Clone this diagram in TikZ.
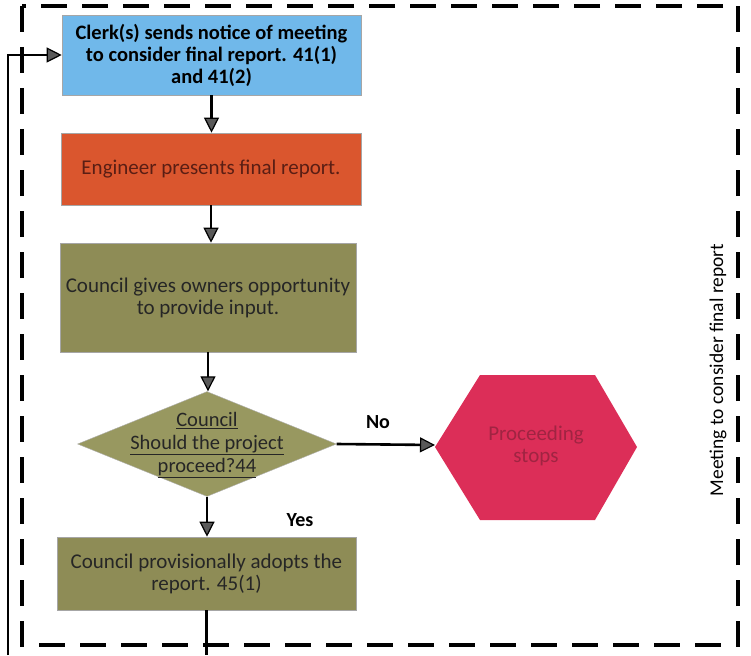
\documentclass[tikz,border=0pt]{standalone}
\usepackage{fontspec}
\setmainfont{Carlito}
\usetikzlibrary{shapes.geometric,arrows.meta}
\definecolor{noticeblue}{RGB}{112,184,234}
\definecolor{reportorange}{RGB}{218,86,46}
\definecolor{councilolive}{RGB}{142,140,86}
\definecolor{decisionolive}{RGB}{152,152,96}
\definecolor{stopred}{RGB}{220,46,88}
\definecolor{stoptext}{RGB}{160,36,66}
\definecolor{reporttext}{RGB}{90,30,20}

\begin{document}
\begin{tikzpicture}
[x=1pt,y=-1pt,
 every node/.style={align=center,font=\fontsize{21}{22}\selectfont},
 box/.style={rectangle,inner sep=0pt,draw=black!35,line width=0.6pt},
 arr/.style={line width=2.6pt,-{Triangle[length=15pt,width=15pt,fill=black!65,line width=1.2pt]}},
 lbl/.style={font=\fontsize{20}{22}\selectfont\bfseries}]
\useasboundingbox (0,0) rectangle (751,655);
\draw[line width=3.5pt,dash pattern=on 26pt off 15pt] (22,6) rectangle (738,645);
\node[box,fill=noticeblue,minimum width=299pt,minimum height=80pt,font=\fontsize{20.5}{22}\selectfont\bfseries] (notice) at (211.5,55) {Clerk(s) sends notice of meeting\\to consider final report. 41(1)\\and 41(2)};
\node[box,fill=reportorange,minimum width=300pt,minimum height=72pt,text=reporttext] (present) at (211,169) {Engineer presents final report.};
\node[box,fill=councilolive,minimum width=296pt,minimum height=109pt,text=black!85] (input) at (208,297.5) {Council gives owners opportunity\\to provide input.};
\node[diamond,fill=decisionolive,draw=black!30,minimum width=259pt,minimum height=105pt,inner sep=0pt] (proceed) at (207,444) {};
\node[text=black!85,font=\fontsize{20.5}{23}\selectfont] (question) at (207,445) {\underline{Council}\\\underline{Should the project}\\\underline{proceed?44}};
\fill[stopred] (435,447) -- (480,375) -- (595,375) -- (637,447) -- (595,520) -- (480,520) -- cycle;
\coordinate (stopin) at (435,445);
\node[text=stoptext] (stops) at (536,446) {Proceeding\\stops};
\node[box,fill=councilolive,minimum width=299pt,minimum height=73pt,text=black!85] (adopt) at (206.5,573.5) {Council provisionally adopts the\\report. 45(1)};
\node[lbl] (no) at (378,422) {No};
\node[lbl] (yes) at (300,520) {Yes};
\node[rotate=90,font=\fontsize{19.5}{22}\selectfont] (meeting) at (718,370) {Meeting to consider final report};
\coordinate (loopstart) at (8,655);
\coordinate (loopend) at (207,655);
\foreach \from/\to in {notice/present,present/input,input/proceed,proceed/adopt}
\draw[arr] (\from.south) -- (\from.south |- \to.north);
\draw[arr] (proceed.east) -- (stopin);
\draw[line width=2.6pt] (adopt.south) -- (adopt.south |- loopend);
\draw[arr] (loopstart) |- (notice.west);
\end{tikzpicture}
\end{document}
